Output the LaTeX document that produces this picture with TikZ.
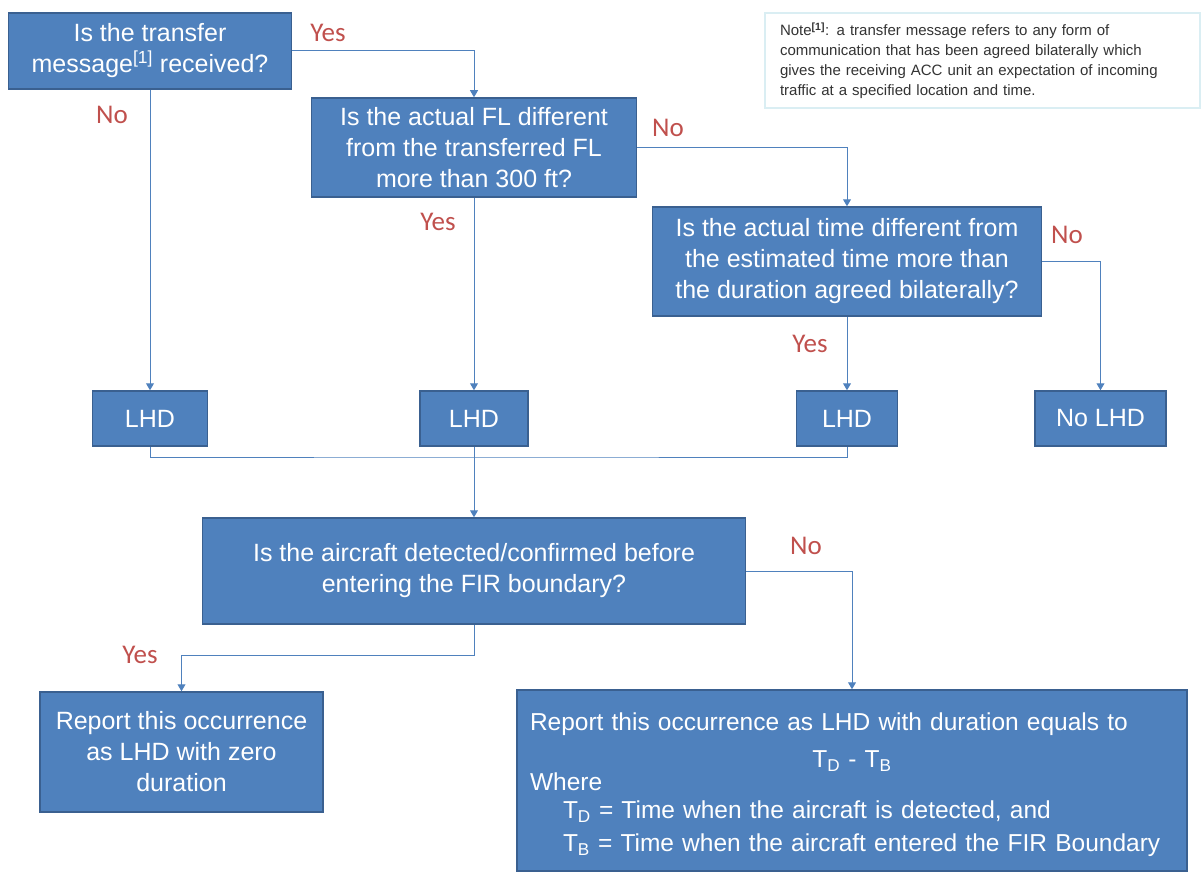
\documentclass[tikz,border=0pt]{standalone}
\usepackage{fontspec}
\setmainfont{Liberation Sans}
\newfontfamily\answerfont{Carlito}
\usetikzlibrary{arrows.meta}

\definecolor{boxblue}{HTML}{4F81BD}
\definecolor{boxedge}{HTML}{3A6090}
\definecolor{answerred}{HTML}{C0504D}
\definecolor{noteedge}{HTML}{DAEEF3}
\definecolor{notetext}{HTML}{333333}

\tikzset{
  stepnode/.style={draw=boxedge, line width=1.5pt, fill=boxblue, text=white,
    align=center, inner sep=0pt, font=\fontsize{25}{31}\selectfont},
  answer/.style={text=answerred, font=\answerfont\fontsize{27}{30}\selectfont},
  link/.style={draw=boxblue, line width=1pt, -{Triangle[width=8pt,length=7pt]}},
  joinline/.style={draw=boxblue, line width=1pt}
}

\begin{document}
\begin{tikzpicture}[x=1pt,y=-1pt]
\useasboundingbox (0,0) rectangle (1203,875);

\node[draw=noteedge, line width=2pt, fill=white, minimum width=435pt, minimum height=95pt,
  text=notetext, align=left, text width=405pt, inner sep=0pt,
  font=\fontsize{15}{20}\selectfont] (note) at (982.5,60.5)
  {Note\textsuperscript{\textbf{[1]}}: a transfer message refers to any form of\\
   communication that has been agreed bilaterally which\\
   gives the receiving ACC unit an expectation of incoming\\
   traffic at a specified location and time.};

\node[stepnode, minimum width=283pt, minimum height=76pt] (q1) at (150,51)
  {Is the transfer\\message\textsuperscript{[1]} received?};
\node[stepnode, minimum width=325pt, minimum height=99pt] (q2) at (474,147.5)
  {Is the actual FL different\\from the transferred FL\\more than 300 ft?};
\node[stepnode, minimum width=389pt, minimum height=109pt] (q3) at (847,261.5)
  {Is the actual time different from\\the estimated time more than\\the duration agreed bilaterally?};

\node[stepnode, minimum width=115pt, minimum height=55pt] (lhd1) at (150,418.5) {LHD};
\node[stepnode, minimum width=108pt, minimum height=55pt] (lhd2) at (474,418.5) {LHD};
\node[stepnode, minimum width=101pt, minimum height=55pt] (lhd3) at (847,418.5) {LHD};
\node[stepnode, minimum width=131pt, minimum height=55pt] (nolhd) at (1100.5,418.5) {No LHD};

\node[stepnode, minimum width=543pt, minimum height=106pt] (q4) at (474,571)
  {Is the aircraft detected/confirmed before\\entering the FIR boundary?};

\node[stepnode, minimum width=283pt, minimum height=120pt] (r1) at (181.5,752)
  {Report this occurrence\\as LHD with zero\\duration};
\node[stepnode, minimum width=670pt, minimum height=181pt, align=left,
  text width=644pt, font=\fontsize{24.5}{30}\selectfont] (r2) at (852,780.5)
  {\rule{0pt}{26pt}Report this occurrence as LHD with duration equals to\\[7pt]
   \makebox[644pt]{T\textsubscript{D} - T\textsubscript{B}}\\[-7pt]
   Where\\[-2pt]
   \hspace*{33pt}T\textsubscript{D} = Time when the aircraft is detected, and\\[3pt]
   \hspace*{33pt}T\textsubscript{B} = Time when the aircraft entered the FIR Boundary};

\coordinate (merge) at (474,457);
\coordinate (yesturn) at (474,655);

\draw[link] (q1.east) -| (q2.north);
\draw[link] (q1.south) -- (lhd1.north);
\draw[link] (q2.east) -| (q3.north);
\draw[link] (q2.south) -- (lhd2.north);
\draw[link] (q3.east) -| (nolhd.north);
\draw[link] (q3.south) -- (lhd3.north);
\draw[joinline] (lhd1.south) |- (merge) -| (lhd3.south);
\draw[link] (lhd2.south) -- (q4.north);
\draw[link] (q4.east) -| (r2.north);
\draw[link] (q4.south) -- (yesturn) -| (r1.north);

\node[answer] (yes1) at (328,33) {Yes};
\node[answer] (no1) at (112,115) {No};
\node[answer] (no2) at (668,128) {No};
\node[answer] (yes2) at (438,222) {Yes};
\node[answer] (no3) at (1067,235) {No};
\node[answer] (yes3) at (810,344) {Yes};
\node[answer] (no4) at (806,546) {No};
\node[answer] (yes4) at (140,655) {Yes};
\end{tikzpicture}
\end{document}
